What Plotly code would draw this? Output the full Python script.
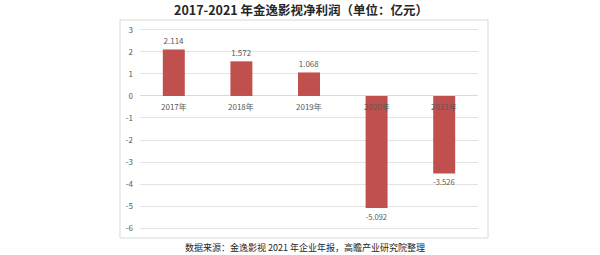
import plotly.graph_objects as go

years = ["2017年", "2018年", "2019年", "2020年", "2021年"]
profits = [2.114, 1.572, 1.068, -5.092, -3.526]
labels = ["2.114", "1.572", "1.068", "-5.092", "-3.526"]
yticks = [3, 2, 1, 0, -1, -2, -3, -4, -5, -6]

FONT = "Noto Sans CJK SC"
L, R, T, B = 140, 122, 20, 17
W, H = 600, 255
pw = W - L - R

fig = go.Figure()
fig.add_trace(go.Bar(
    x=years, y=profits, text=labels, textposition="outside",
    textfont=dict(size=8, color="#595959", family=FONT),
    marker=dict(color="#C0504D", line=dict(width=0)),
    cliponaxis=False,
))

for yr in years:
    fig.add_annotation(x=yr, y=0, yref="y", xref="x", text=yr, showarrow=False,
                       yanchor="top", yshift=-3,
                       font=dict(size=8, color="#595959", family=FONT))

fig.add_shape(type="rect", xref="paper", yref="paper",
              x0=(120 - L) / pw, x1=(488 - L) / pw, y0=0, y1=1,
              line=dict(color="#D9D9D9", width=1), layer="below")

fig.add_annotation(xref="paper", yref="paper", x=(301 - L) / pw, xanchor="center",
                   y=1, yanchor="bottom", yshift=-1,
                   text="<b>2017-2021 年金逸影视净利润（单位：亿元）</b>",
                   showarrow=False, font=dict(size=12.5, color="#262626", family=FONT))
fig.add_annotation(xref="paper", yref="paper", x=(305 - L) / pw, xanchor="center",
                   y=0, yanchor="top", yshift=-1,
                   text="数据来源：金逸影视 2021 年企业年报，高瞻产业研究院整理",
                   showarrow=False, font=dict(size=9, color="#262626", family=FONT))

fig.update_layout(
    width=W, height=H, margin=dict(l=L, r=R, t=T, b=B),
    paper_bgcolor="white", plot_bgcolor="white",
    showlegend=False, bargap=0.675,
    font=dict(family=FONT, color="#595959"),
)
fig.update_xaxes(showticklabels=False, showgrid=False, showline=False, zeroline=False)
fig.update_yaxes(range=[-6.45, 3.45], tickvals=yticks, ticktext=[str(v) for v in yticks],
                 showgrid=True, gridcolor="#E3E3E3", gridwidth=1,
                 zeroline=True, zerolinecolor="#D9D9D9", zerolinewidth=1,
                 showline=False, tickfont=dict(size=8, color="#595959", family=FONT),
                 ticks="", ticklabelstandoff=6)

fig.write_html("out.html")
